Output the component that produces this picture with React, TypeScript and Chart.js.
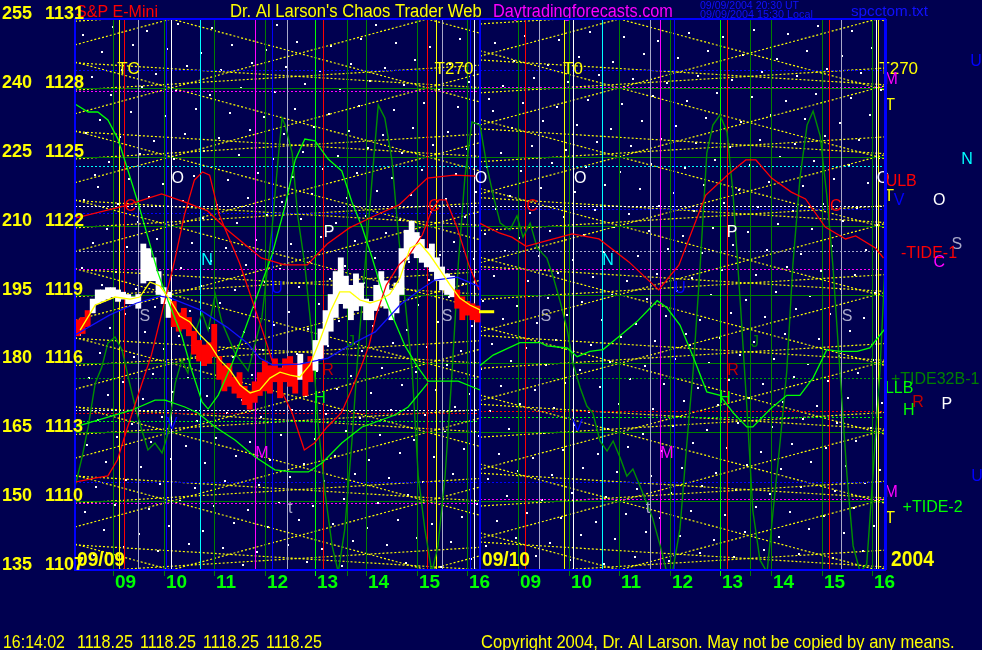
import React, { useEffect, useRef } from 'react';
import { Chart, registerables } from 'chart.js';

Chart.register(...registerables);

const FONT = '"Liberation Sans", Arial, Helvetica, sans-serif';
const BG = '#000050';

// ---------------- data ----------------
const priceTicks = [1107, 1110, 1113, 1116, 1119, 1122, 1125, 1128, 1131];
const energyTicks = [135, 150, 165, 180, 195, 210, 225, 240, 255];
const hourSlots = [0.75, 1.75, 2.75, 3.75, 4.75, 5.75, 6.75, 7.75, 8.75, 9.75, 10.75, 11.75, 12.75, 13.75, 14.75, 15.75];
const hourLabels = ['09', '10', '11', '12', '13', '14', '15', '16', '09', '10', '11', '12', '13', '14', '15', '16'];
const dayStarts = [0, 8];
const dayEnds = [8, 16];
const dayLabels = ['09/09', '09/10'];
const yearLabel = '2004';
const lastTick = '16:14:02';
const lastQuote = [1118.25, 1118.25, 1118.25, 1118.25];
const closePrice = 1118.25;

// 6-minute price bars of 09/09 (low / high / tone)
const barLow = [1117.2, 1117.3, 1117.6, 1118.2, 1118.6, 1118.7, 1118.8, 1118.9, 1118.7, 1118.8, 1118.6, 1118.6, 1118.4, 1119.5, 1119.6, 1119.6, 1119.0, 1118.6, 1118.0, 1117.6, 1117.4, 1117.5, 1117.2, 1116.4, 1116.1, 1115.9, 1116.0, 1116.3, 1115.3, 1114.8, 1115.0, 1114.7, 1114.5, 1114.2, 1114.0, 1114.3, 1114.6, 1114.8, 1114.7, 1115.2, 1114.5, 1115.2, 1115.0, 1114.7, 1115.3, 1114.6, 1115.2, 1115.7, 1116.2, 1116.8, 1117.4, 1118.0, 1118.6, 1118.4, 1117.9, 1118.3, 1118.5, 1117.9, 1117.9, 1118.3, 1118.5, 1118.4, 1117.9, 1118.2, 1119.0, 1120.5, 1120.8, 1120.6, 1120.4, 1120.2, 1120.0, 1119.6, 1119.2, 1119.0, 1118.9, 1118.4, 1117.9, 1118.1, 1117.9, 1117.8];
const barHigh = [1117.9, 1118.0, 1118.3, 1118.8, 1119.2, 1119.2, 1119.3, 1119.3, 1119.2, 1119.1, 1119.0, 1118.9, 1119.0, 1121.2, 1121.0, 1120.6, 1120.0, 1119.3, 1119.1, 1118.7, 1118.2, 1118.4, 1118.0, 1117.4, 1117.0, 1116.8, 1116.9, 1117.7, 1116.3, 1115.9, 1116.0, 1115.4, 1115.6, 1115.0, 1114.8, 1115.2, 1115.6, 1116.1, 1115.9, 1116.2, 1115.8, 1116.2, 1116.3, 1116.0, 1116.4, 1116.0, 1116.3, 1117.0, 1117.5, 1118.3, 1119.0, 1120.0, 1120.6, 1119.8, 1119.4, 1119.9, 1119.5, 1118.8, 1118.7, 1119.4, 1120.0, 1119.6, 1119.2, 1119.5, 1121.0, 1121.8, 1122.2, 1121.7, 1121.4, 1121.0, 1121.2, 1120.6, 1120.2, 1119.9, 1119.8, 1119.2, 1118.9, 1118.7, 1118.6, 1118.5];
const barTone = ['RRR', 'WWWWWWWWWWWWWWWW', 'RRRRRRRRRRRRRRRRRRRRRRRRR', 'W', 'RR', 'WWWWWWWWWWWWWWWWWWWWWWWWWWWW', 'RRRRR'].join('');
const barStep = 0.1;

const fastAverage: [number, number][] = [[0.1, 1117.45], [0.4, 1118.54], [0.79, 1118.89], [1.09, 1118.8], [1.28, 1118.89], [1.48, 1119.54], [1.68, 1119.37], [1.88, 1118.76], [2.07, 1118.06], [2.27, 1117.8], [2.47, 1117.24], [2.67, 1116.8], [2.86, 1116.15], [3.06, 1115.71], [3.26, 1115.06], [3.46, 1114.71], [3.65, 1114.84], [3.85, 1115.36], [4.05, 1115.62], [4.25, 1115.49], [4.44, 1115.41], [4.64, 1115.93], [4.84, 1117.02], [5.04, 1118.24], [5.23, 1119.11], [5.43, 1119.11], [5.63, 1118.76], [5.83, 1118.63], [6.02, 1118.76], [6.22, 1119.02], [6.42, 1119.72], [6.62, 1121.03], [6.81, 1121.24], [7.01, 1120.72], [7.21, 1120.07], [7.41, 1119.41], [7.6, 1118.85], [7.8, 1118.54], [8.0, 1118.33]];
const slowAverage: [number, number][] = [[0, 1117.24], [0.69, 1118.11], [1.22, 1118.63], [1.68, 1118.93], [1.88, 1118.85], [2.47, 1118.33], [3.0, 1117.58], [3.4, 1116.89], [3.65, 1116.23], [3.91, 1115.93], [4.44, 1115.97], [5.0, 1116.23], [5.43, 1116.8], [5.93, 1117.37], [6.42, 1118.54], [6.81, 1119.2], [7.11, 1119.63], [7.55, 1119.76], [8.0, 1119.33]];
const ulbCurve: [number, number][] = [[0, 1110.83], [0.39, 1111.0], [0.65, 1111.1], [0.84, 1111.8], [1.02, 1113.1], [1.28, 1114.84], [1.51, 1116.37], [1.73, 1118.33], [1.97, 1120.5], [2.16, 1122.46], [2.36, 1123.99], [2.52, 1124.34], [2.66, 1124.2], [2.85, 1122.46], [3.25, 1120.37], [3.7, 1117.45], [4.1, 1114.71], [4.29, 1113.84], [4.53, 1112.23], [4.73, 1112.53], [4.98, 1113.23], [5.26, 1113.84], [5.46, 1114.84], [5.65, 1115.84], [5.81, 1116.8], [5.95, 1118.11], [6.15, 1119.41], [6.4, 1120.29], [6.6, 1120.72], [6.86, 1121.59], [7.05, 1122.68], [7.19, 1123.12], [7.33, 1123.12], [7.55, 1121.9], [7.78, 1120.29], [7.98, 1119.2]];
const tideOneDay1: [number, number][] = [[0, 1122.33], [0.98, 1122.86], [1.71, 1123.38], [2.16, 1123.03], [2.62, 1122.64], [3.01, 1121.81], [3.68, 1120.59], [4.14, 1120.29], [4.59, 1120.29], [4.98, 1121.2], [5.42, 1121.9], [5.91, 1122.42], [6.4, 1122.9], [6.96, 1124.07], [7.49, 1124.2], [7.94, 1124.16]];
const tideOneDay2: [number, number][] = [[8.0, 1122.1], [8.38, 1121.68], [8.63, 1121.5], [8.91, 1121.1], [9.36, 1121.37], [9.82, 1121.64], [10.35, 1121.42], [10.94, 1120.42], [11.53, 1119.2], [11.93, 1120.29], [12.46, 1123.33], [12.91, 1124.25], [13.25, 1124.86], [13.45, 1124.86], [13.76, 1124.07], [14.15, 1123.46], [14.43, 1123.16], [14.82, 1121.94], [15.22, 1121.42], [15.42, 1121.55], [15.81, 1121.03], [15.97, 1120.59]];
const tideTwoA: [number, number][] = [[0, 1127.3], [0.26, 1126.95], [0.45, 1126.95], [0.65, 1126.6], [0.85, 1125.77], [1.05, 1124.38], [1.24, 1123.03], [1.44, 1121.5], [1.64, 1119.94], [1.84, 1118.72], [2.11, 1117.19], [2.31, 1115.67], [2.51, 1114.32], [2.63, 1114.01], [2.83, 1114.62], [3.1, 1115.97], [3.36, 1117.5], [3.61, 1119.02], [3.89, 1120.72], [4.15, 1122.85], [4.35, 1124.86], [4.54, 1125.77], [4.74, 1125.69], [5.0, 1124.9], [5.27, 1124.38], [5.47, 1123.03], [5.67, 1121.94], [5.87, 1120.59], [6.06, 1119.2], [6.26, 1118.11], [6.52, 1116.76], [6.77, 1115.84], [6.97, 1115.23], [7.25, 1115.23], [7.57, 1115.23], [8.0, 1114.84]];
const tideTwoB: [number, number][] = [[0, 1113.23], [0.65, 1113.66], [1.13, 1113.97], [1.58, 1114.4], [1.78, 1114.4], [2.17, 1114.1], [2.43, 1113.84], [2.77, 1113.23], [3.16, 1112.66], [3.56, 1111.92], [3.95, 1111.36], [4.29, 1111.27], [4.61, 1111.27], [4.88, 1111.66], [5.27, 1112.53], [5.67, 1113.23], [6.32, 1113.75], [6.58, 1114.1], [6.97, 1115.14]];
const tideTwoDay2: [number, number][] = [[8.0, 1115.91], [8.26, 1116.36], [8.79, 1116.9], [9.19, 1116.9], [9.32, 1116.76], [9.72, 1116.67], [9.92, 1116.29], [10.17, 1116.52], [10.43, 1116.6], [10.77, 1117.21], [11.1, 1117.82], [11.5, 1118.73], [11.69, 1118.43], [11.95, 1117.67], [12.21, 1116.29], [12.48, 1114.76], [12.74, 1114.61], [13.0, 1113.85], [13.27, 1113.23], [13.39, 1113.23], [13.73, 1114.0], [14.06, 1114.61], [14.32, 1114.61], [14.58, 1115.37], [14.85, 1116.6], [15.11, 1116.52], [15.45, 1116.52], [15.7, 1116.67], [16.0, 1117.51]];
const tide32: [number, number][] = [[0, 1110.62], [0.14, 1111.92], [0.26, 1113.23], [0.4, 1115.14], [0.53, 1115.84], [0.65, 1116.89], [0.79, 1117.15], [0.93, 1116.58], [1.05, 1115.41], [1.19, 1114.1], [1.32, 1113.1], [1.44, 1112.23], [1.58, 1112.53], [1.72, 1112.1], [1.84, 1112.97], [1.98, 1115.14], [2.11, 1116.15], [2.23, 1115.58], [2.37, 1117.32], [2.51, 1118.19], [2.63, 1117.45], [2.77, 1119.02], [2.9, 1117.8], [3.16, 1116.45], [3.42, 1115.67], [3.69, 1117.98], [3.89, 1121.81], [4.01, 1124.86], [4.09, 1126.69], [4.15, 1126.38], [4.29, 1125.16], [4.4, 1122.42], [4.54, 1120.28], [4.68, 1117.19], [4.8, 1113.4], [4.94, 1110.35], [5.08, 1108.05], [5.2, 1106.9], [5.33, 1108.79], [5.47, 1112.62], [5.59, 1116.45], [5.73, 1120.28], [5.87, 1124.07], [5.99, 1127.25], [6.12, 1126.69], [6.26, 1124.86], [6.38, 1121.81], [6.52, 1118.72], [6.66, 1115.67], [6.78, 1111.09], [6.91, 1108.79], [7.05, 1106.9], [7.17, 1108.05], [7.31, 1111.09], [7.45, 1115.67], [7.57, 1120.28], [7.7, 1124.07], [7.84, 1126.51], [8.0, 1126.38], [8.14, 1124.55], [8.26, 1123.33], [8.4, 1122.11], [8.59, 1121.81], [8.73, 1122.42], [8.85, 1121.5], [8.99, 1122.11], [9.13, 1121.03], [9.32, 1120.59], [9.44, 1119.81], [9.58, 1118.72], [9.72, 1117.5], [9.84, 1115.97], [9.98, 1114.93], [10.11, 1114.14], [10.23, 1113.84], [10.37, 1112.62], [10.51, 1112.18], [10.63, 1112.62], [10.77, 1111.88], [10.9, 1111.09], [11.02, 1111.4], [11.16, 1110.66], [11.3, 1109.87], [11.41, 1109.26], [11.56, 1108.05], [11.69, 1106.9], [11.81, 1107.0], [11.95, 1108.79], [12.09, 1112.62], [12.21, 1115.67], [12.35, 1120.28], [12.48, 1125.16], [12.6, 1126.38], [12.74, 1126.82], [12.88, 1126.08], [13.0, 1123.33], [13.14, 1118.72], [13.27, 1114.14], [13.39, 1109.57], [13.53, 1107.44], [13.67, 1106.9], [13.79, 1109.57], [13.93, 1112.62], [14.06, 1115.67], [14.18, 1120.28], [14.32, 1124.07], [14.46, 1126.38], [14.58, 1126.99], [14.72, 1125.9], [14.85, 1123.33], [14.97, 1120.28], [15.11, 1115.67], [15.25, 1111.09], [15.37, 1108.05], [15.51, 1106.9], [15.64, 1107.26], [15.76, 1111.09], [15.9, 1115.67], [16.0, 1120.28]];

// timing lines: [slot, kind]
const timeMarks: [number, string][] = [
  [0.75, 'G'], [0.87, 'Y'], [0.97, 'R'], [1.24, 'A'], [1.75, 'G'], [1.8, 'B'], [1.9, 'W'], [2.47, 'C'], [2.75, 'G'], [3.56, 'M'], [3.75, 'G'], [3.89, 'B'], [4.19, 'A'], [4.75, 'L'], [4.9, 'R'], [5.37, 'G'], [5.75, 'G'], [6.75, 'G'], [6.95, 'R'], [7.13, 'Y'], [7.25, 'A'], [7.75, 'G'], [7.8, 'B'], [7.88, 'W'],
  [8.75, 'G'], [8.89, 'R'], [9.16, 'A'], [9.66, 'Y'], [9.75, 'G'], [9.84, 'W'], [10.41, 'C'], [10.75, 'G'], [11.36, 'A'], [11.56, 'M'], [11.75, 'G'], [11.83, 'B'], [12.75, 'L'], [12.88, 'R'], [13.33, 'G'], [13.75, 'G'], [14.75, 'G'], [14.89, 'R'], [15.13, 'A'], [15.75, 'G'], [15.83, 'W'], [15.87, 'Y'],
];
const daySplit = 8;
// price levels: [day, price, kind]
const levelMarks: [number, number, string][] = [
  [0, 1128.8, 'B'], [1, 1128.8, 'B'], [0, 1127.86, 'M'], [1, 1128.04, 'M'], [0, 1124.6, 'C'], [1, 1124.6, 'C'],
  [0, 1122.86, 'W'], [1, 1122.86, 'W'], [0, 1122.55, 'B'], [1, 1122.73, 'B'], [0, 1120.9, 'A'], [1, 1120.9, 'A'],
  [0, 1120.1, 'M'], [1, 1120.1, 'M'], [0, 1115.36, 'D'], [1, 1115.36, 'D'], [0, 1113.97, 'W'], [0, 1113.85, 'R'], [1, 1113.93, 'R'],
  [0, 1113.5, 'L'], [1, 1113.67, 'L'], [0, 1110.85, 'B'], [1, 1110.85, 'B'], [0, 1109.9, 'M'], [1, 1110.1, 'M'],
];
// harmonic lattice
const latticeCentres = [1.9, 10.75];
const latticeWidths = [5.06, 5.1];
const fanCentres = [4.4, 13.3];
const fanSlope = 0.135;

const timeTags: [string, number][] = [['TC', 1.057], ['T270', 7.486], ['T0', 9.837], ['T270', 16.27]];
const timeTagPrice = 1128.82;
const letterNotes: [string, number, number, string][] = [
  ['O', 2.03, 1124.03, 'W'], ['O', 8.02, 1124.03, 'W'], ['O', 9.98, 1124.03, 'W'], ['O', 15.96, 1124.03, 'W'],
  ['C', 1.09, 1122.81, 'R'], ['C', 7.09, 1122.81, 'R'], ['C', 9.03, 1122.81, 'R'], ['C', 15.03, 1122.81, 'R'],
  ['P', 5.02, 1121.68, 'W'], ['P', 12.98, 1121.68, 'W'], ['N', 2.61, 1120.46, 'C'], ['N', 10.53, 1120.46, 'C'],
  ['U', 3.99, 1119.24, 'B'], ['U', 11.95, 1119.24, 'B'],
  ['S', 1.38, 1118.02, 'A'], ['S', 7.35, 1118.02, 'A'], ['S', 9.3, 1118.02, 'A'], ['S', 15.25, 1118.02, 'A'],
  ['J', 5.45, 1116.89, 'G'], ['J', 13.43, 1116.89, 'G'], ['R', 5.0, 1115.67, 'K'], ['R', 13.0, 1115.67, 'K'],
  ['H', 4.84, 1114.45, 'L'], ['H', 12.84, 1114.45, 'L'], ['V', 1.92, 1113.32, 'B'], ['V', 9.93, 1113.23, 'B'],
  ['M', 3.69, 1112.05, 'M'], ['M', 11.69, 1112.05, 'M'], ['t', 4.25, 1109.66, 'A'], ['t', 11.32, 1109.66, 'A'],
  ['M', 16.12, 1128.34, 'M'], ['T', 16.1, 1127.25, 'Y'], ['U', 17.8, 1129.13, 'B'], ['N', 17.62, 1124.86, 'C'],
  ['ULB', 16.32, 1123.9, 'R'], ['T', 16.08, 1123.25, 'Y'], ['V', 16.28, 1123.07, 'B'], ['O', 17.07, 1123.07, 'W'],
  ['S', 17.42, 1121.16, 'A'], ['-TIDE-1', 16.87, 1120.79, 'R'], ['C', 17.07, 1120.37, 'M'],
  ['+TIDE32B-1', 16.99, 1115.28, 'G'], ['LLB', 16.28, 1114.91, 'L'], ['R', 16.65, 1114.27, 'K'], ['H', 16.47, 1113.93, 'L'], ['P', 17.22, 1114.21, 'W'],
  ['U', 17.82, 1111.09, 'B'], ['M', 16.12, 1110.35, 'M'], ['+TIDE-2', 16.94, 1109.74, 'L'], ['T', 16.1, 1109.22, 'Y'],
];

// ---------------- styling ----------------
const COLORS: Record<string, string> = {
  G: '#008000', L: '#00ff00', Y: '#ffff00', R: '#ff0000', A: '#a8a8c8', B: '#0000ff',
  W: '#ffffff', C: '#00ffff', M: '#ff00ff', D: '#00a000', K: '#c00000',
};

function fitText(ctx: CanvasRenderingContext2D, text: string, x: number, y: number, width: number, weight: string, color: string, stretch = 1) {
  ctx.font = `${weight} 20px ${FONT}`;
  const w = ctx.measureText(text).width || 1;
  ctx.font = `${weight} ${((20 * width) / w).toFixed(2)}px ${FONT}`;
  ctx.fillStyle = color;
  ctx.textAlign = 'left';
  ctx.textBaseline = 'alphabetic';
  ctx.save();
  ctx.translate(x, y);
  ctx.scale(1, stretch);
  ctx.fillText(text, 0, 0);
  ctx.restore();
}

function seg(ctx: CanvasRenderingContext2D, xs: any, ys: any, s0: number, p0: number, s1: number, p1: number) {
  ctx.beginPath();
  ctx.moveTo(xs.getPixelForValue(s0), ys.getPixelForValue(p0));
  ctx.lineTo(xs.getPixelForValue(s1), ys.getPixelForValue(p1));
  ctx.stroke();
}

const backdropPlugin = {
  id: 'backdrop',
  beforeDraw(chart: any) {
    const { ctx, chartArea: a } = chart;
    ctx.save();
    ctx.fillStyle = BG;
    ctx.fillRect(0, 0, chart.width, chart.height);
    // decorative star texture
    ctx.fillStyle = '#ffffff';
    const w = a.right - a.left - 6;
    const h = a.bottom - a.top - 6;
    for (let i = 1; i <= 620; i++) {
      const fx = (i * 0.7548776662) % 1;
      const fy = (i * 0.5698402910) % 1;
      ctx.fillRect(Math.round(a.left + 3 + fx * w), Math.round(a.top + 3 + fy * h), 2, 2);
    }
    // header
    fitText(ctx, 'S&P E-Mini', 76, 17, 82, '', '#ff0000', 1.08);
    fitText(ctx, "Dr. Al Larson's Chaos Trader Web", 230, 17, 252, '', '#ffff00', 1.08);
    fitText(ctx, 'Daytradingforecasts.com', 493, 17, 180, '', '#ff00ff', 1.08);
    fitText(ctx, '09/09/2004 20:30 UT', 700, 9, 99, '', '#1010ff');
    fitText(ctx, '09/09/2004 15:30 Local', 700, 18, 113, '', '#1010ff');
    fitText(ctx, 'spcctom.txt', 851, 16, 77, '', '#1010ff');
    ctx.restore();
  },
};

const gridPlugin = {
  id: 'lattice',
  beforeDatasetsDraw(chart: any) {
    const { ctx, chartArea: a, scales } = chart;
    const xs = scales.x;
    const ys = scales.y;
    ctx.save();
    ctx.beginPath();
    ctx.rect(a.left, a.top, a.right - a.left, a.bottom - a.top);
    ctx.clip();
    // harmonic lattice (yellow dotted)
    ctx.strokeStyle = '#ffff00';
    ctx.lineWidth = 1.2;
    ctx.setLineDash([2, 2]);
    dayStarts.forEach((s0, d) => {
      const s1 = dayEnds[d];
      const k = 3 / latticeWidths[d];
      const c = latticeCentres[d];
      for (let L = 1095; L <= 1143; L += 3) {
        seg(ctx, xs, ys, s0, L + k * (s0 - c), s1, L + k * (s1 - c));
        seg(ctx, xs, ys, s0, L - k * (s0 - c), s1, L - k * (s1 - c));
      }
      const f = fanCentres[d];
      for (let L = 1104.5; L <= 1133.5; L += 3) {
        seg(ctx, xs, ys, s0, L + fanSlope * (s0 - f), s1, L + fanSlope * (s1 - f));
        seg(ctx, xs, ys, s0, L - fanSlope * (s0 - f), s1, L - fanSlope * (s1 - f));
      }
    });
    // price levels (dotted)
    ctx.lineWidth = 1;
    levelMarks.forEach(([d, p, k]) => {
      const py = Math.round(ys.getPixelForValue(p)) + 0.5;
      ctx.strokeStyle = COLORS[k];
      ctx.beginPath();
      ctx.moveTo(xs.getPixelForValue(dayStarts[d]), py);
      ctx.lineTo(xs.getPixelForValue(dayEnds[d]), py);
      ctx.stroke();
    });
    // grid lines
    ctx.setLineDash([]);
    ctx.strokeStyle = '#008000';
    priceTicks.slice(1, -1).forEach((p) => {
      const py = Math.round(ys.getPixelForValue(p)) + 0.5;
      ctx.beginPath();
      ctx.moveTo(a.left, py);
      ctx.lineTo(a.right, py);
      ctx.stroke();
    });
    ctx.restore();
    // timing lines
    ctx.save();
    ctx.lineWidth = 1;
    timeMarks.forEach(([s, k]) => {
      const px = Math.round(xs.getPixelForValue(s)) + 0.5;
      ctx.strokeStyle = COLORS[k];
      ctx.beginPath();
      ctx.moveTo(px, a.top);
      ctx.lineTo(px, k === 'G' || k === 'L' ? a.bottom + 6 : a.bottom);
      ctx.stroke();
    });
    ctx.strokeStyle = '#0000ff';
    ctx.lineWidth = 2;
    const dx = Math.round(xs.getPixelForValue(daySplit));
    ctx.beginPath();
    ctx.moveTo(dx, a.top);
    ctx.lineTo(dx, a.bottom);
    ctx.stroke();
    ctx.restore();
  },
};

const overlayPlugin = {
  id: 'overlay',
  afterDraw(chart: any) {
    const { ctx, chartArea: a, scales } = chart;
    const xs = scales.x;
    const ys = scales.y;
    ctx.save();
    // notes
    ctx.textAlign = 'center';
    ctx.textBaseline = 'middle';
    ctx.font = `17px ${FONT}`;
    ctx.fillStyle = '#ffff00';
    timeTags.forEach(([t, s]) => ctx.fillText(t, xs.getPixelForValue(s), ys.getPixelForValue(timeTagPrice)));
    ctx.font = `16px ${FONT}`;
    letterNotes.forEach(([t, s, p, k]) => {
      ctx.fillStyle = COLORS[k];
      ctx.fillText(t, xs.getPixelForValue(s), ys.getPixelForValue(p));
    });
    // frame
    ctx.strokeStyle = '#0000ff';
    ctx.lineWidth = 2;
    ctx.strokeRect(a.left, a.top, a.right - a.left, a.bottom - a.top);
    ctx.fillStyle = '#0000ff';
    ctx.fillRect(a.right - 1, a.top, 3, a.bottom - a.top);
    // left scale
    ctx.textAlign = 'left';
    ctx.textBaseline = 'alphabetic';
    ctx.font = `bold 18px ${FONT}`;
    ctx.fillStyle = '#ffff00';
    priceTicks.forEach((p, i) => {
      const py = Math.round(ys.getPixelForValue(p));
      ctx.fillText(String(energyTicks[i]), 2, py);
      ctx.fillText(String(p), 45, py);
    });
    // hour labels
    ctx.font = `bold 19px ${FONT}`;
    ctx.fillStyle = '#00ff00';
    hourSlots.forEach((s, i) => ctx.fillText(hourLabels[i], Math.round(xs.getPixelForValue(s)) + 2, 588));
    // day labels
    dayStarts.forEach((s, i) => fitText(ctx, dayLabels[i], xs.getPixelForValue(s) + 2, a.bottom - 4, 48, 'bold', '#ffff00', 1.1));
    fitText(ctx, yearLabel, a.right + 6, a.bottom - 4, 43, 'bold', '#ffff00', 1.1);
    // footer
    fitText(ctx, lastTick, 3, 648, 62, '', '#ffff00', 1.18);
    lastQuote.forEach((q, i) => fitText(ctx, q.toFixed(2), 77 + i * 63, 648, 56, '', '#ffff00', 1.18));
    fitText(ctx, 'Copyright 2004, Dr. Al Larson. May not be copied by any means.', 481, 648, 474, '', '#ffff00', 1.12);
    ctx.restore();
  },
};

const pts = (arr: [number, number][]) => arr.map(([x, y]) => ({ x, y }));
const lineSet = (data: [number, number][], color: string, width = 1.3) => ({
  type: 'line' as const,
  data: pts(data),
  borderColor: color,
  borderWidth: width,
  pointRadius: 0,
  tension: 0,
  fill: false,
});

export default function App() {
  const ref = useRef<HTMLCanvasElement>(null);
  useEffect(() => {
    const canvas = ref.current;
    if (!canvas) return;
    const bars = barLow.map((lo, i) => ({ x: i * barStep + barStep / 2, y: [lo, barHigh[i]] }));
    const chart = new Chart(canvas, {
      type: 'line',
      data: {
        datasets: [
          lineSet([[7.98, closePrice], [8.28, closePrice]], '#ffff00', 3),
          lineSet(fastAverage, '#ffff00'),
          lineSet(slowAverage, '#1010ff'),
          lineSet(ulbCurve, '#ff0000'),
          lineSet(tideOneDay1, '#ff0000'),
          lineSet(tideOneDay2, '#ff0000'),
          lineSet(tideTwoA, '#00ff00'),
          lineSet(tideTwoB, '#00ff00'),
          lineSet(tideTwoDay2, '#00ff00'),
          {
            type: 'bar' as const,
            data: bars as any,
            backgroundColor: barTone.split('').map((t) => (t === 'W' ? '#ffffff' : '#ff0000')),
            borderWidth: 0,
            barThickness: 5.2,
            grouped: false,
          },
          lineSet(tide32, '#009000', 1.4),
        ] as any,
      },
      options: {
        animation: false,
        responsive: false,
        maintainAspectRatio: false,
        events: [],
        layout: { padding: { left: 75, right: 97, top: 19, bottom: 80 } },
        plugins: { legend: { display: false }, tooltip: { enabled: false }, title: { display: false } },
        scales: {
          x: { type: 'linear', min: 0, max: 16, display: false, offset: false },
          y: { type: 'linear', min: 1107, max: 1131, display: false },
        },
      } as any,
      plugins: [backdropPlugin, gridPlugin, overlayPlugin],
    });
    return () => chart.destroy();
  }, []);
  return (
    <div style={{ position: 'absolute', left: 0, top: 0, width: 982, height: 650, background: BG }}>
      <canvas ref={ref} width={982} height={650} style={{ display: 'block', width: 982, height: 650 }} />
    </div>
  );
}
